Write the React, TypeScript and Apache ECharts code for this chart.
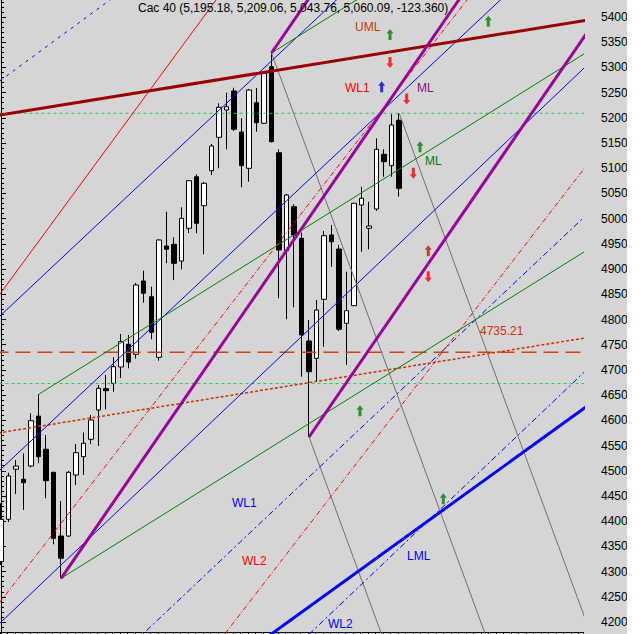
import React, { useEffect, useRef } from 'react';
import * as echarts from 'echarts';

// ---- price data (bar index 0..53) ----
const opens = [4319.6, 4403.7, 4502.9, 4483.1, 4509.4, 4608.6, 4542.6, 4496.9, 4370.6, 4370.6, 4491.6, 4527.9, 4562.4, 4620.5, 4662.7, 4673.5, 4705.8, 4750.8, 4731.0, 4876.4, 4845.2, 4725.0, 4945.8, 4949.2, 4916.0, 4980.9, 5083.2, 5025.7, 5095.1, 5161.4, 5215.5, 5253.2, 5171.9, 5099.9, 5230.0, 5189.2, 5301.4, 5130.8, 4936.5, 5023.7, 4961.1, 4757.4, 4723.0, 4840.1, 4967.6, 4939.8, 4792.5, 4827.4, 5027.1, 4980.9, 5019.2, 5127.7, 5105.1, 5195.18];
const closes = [4403.7, 4489.6, 4509.4, 4476.3, 4599.3, 4527.9, 4480.3, 4366.0, 4326.4, 4496.9, 4535.8, 4554.5, 4600.7, 4663.5, 4658.8, 4706.4, 4756.0, 4715.7, 4868.4, 4852.0, 4774.6, 4957.7, 4939.2, 4911.5, 5000.7, 5075.3, 4990.8, 5070.2, 5144.1, 5220.9, 5222.1, 5177.3, 5105.1, 5255.2, 5190.4, 5288.9, 5152.7, 4937.9, 5046.9, 4967.6, 4769.3, 4696.5, 4818.8, 4966.2, 4954.3, 4780.6, 4817.5, 5030.5, 5040.4, 4985.5, 5137.6, 5113.0, 5185.8, 5060.09];
const lows = [4313.1, 4398.4, 4453.9, 4422.2, 4507.0, 4514.8, 4445.4, 4354.1, 4286.7, 4368.6, 4471.7, 4491.6, 4553.1, 4549.1, 4621.9, 4656.8, 4684.0, 4703.2, 4722.6, 4833.3, 4760.7, 4718.3, 4911.5, 4878.3, 4899.6, 4971.6, 4971.0, 4929.3, 5086.6, 5099.9, 5137.6, 5173.9, 5062.2, 5073.3, 5172.5, 5187.8, 5151.1, 4842.1, 4800.4, 4824.2, 4686.6, 4566.9, 4676.6, 4746.1, 4904.7, 4777.0, 4709.8, 4826.8, 4934.5, 4939.2, 5015.2, 5083.2, 5083.2, 5043.76];
const highs = [4435.4, 4496.1, 4521.3, 4534.6, 4614.0, 4651.6, 4570.9, 4498.0, 4440.0, 4499.5, 4553.1, 4575.9, 4610.6, 4670.1, 4689.9, 4725.0, 4771.2, 4769.3, 4872.4, 4896.8, 4865.1, 4959.0, 5013.8, 4963.0, 5022.5, 5076.7, 5088.0, 5072.7, 5148.1, 5228.8, 5249.9, 5259.8, 5199.1, 5257.2, 5259.2, 5292.9, 5328.6, 5137.6, 5048.9, 5028.5, 4972.2, 4799.0, 4838.7, 4975.5, 4987.4, 4947.8, 4894.8, 5031.1, 5063.4, 5033.7, 5159.4, 5137.6, 5207.0, 5209.06];

// ---- drawn lines: [x1, price1, x2, price2] in (bar index, price) ----
const umlLine = [-1, 5203.5, 78, 5393.8];
const pitchforkMedian = [8, 4286.7, 61, 5435.2];
const pitchforkUpper = [36, 5328.6, 41, 5436.95];
const pitchforkLower = [41, 4566.9, 78, 5368.7];
const greenUpper = [5, 4651.6, 78, 5330.5];
const greenLower = [8, 4286.7, 78, 4937.7];
const greenTop = [36, 5328.6, 48, 5440.2];
const blueChannelA = [-1, 4489.4, 67, 5441.3];
const blueChannelB = [-1, 4794.8, 46, 5452.7];
const blueChannelC = [-1, 4185.7, 78, 5304.3];
const blueDottedTop = [-1, 5264.1, 16, 5450.1];
const blueLML = [35, 4165.5, 78, 4628.2];
const blueWL1 = [18, 4163.7, 78, 5008.5];
const blueWL2 = [41, 4175.5, 78, 4700.9];
const redSolid = [-1, 4833.0, 30, 5461.7];
const redWL1 = [-1, 4223.0, 63, 5452.4];
const redWL2 = [29, 4161.0, 78, 5106.7];
const greyFromHigh = [36, 5328.6, 66, 4113.6];
const greyFromLast = [53, 5209.06, 78, 4196.6];
const greyFromLow = [41, 4566.9, 52, 4121.4];
const orangeDotted = [-1, 4573.4, 78, 4764.0];
const levelPrice = [4735.21];
const greenLevels = [5209.06, 4673.0];

// ---- arrows: [bar index, price] ----
const arrowsUpGreen = [[51.78, 5365.3], [64.86, 5391.5], [55.77, 5142.7], [47.78, 4618.9], [58.87, 4444.6]];
const arrowsDownRed = [[51.78, 5309.7], [54.0, 5237.4], [54.88, 5090.0], [56.87, 4884.9]];
const arrowsUpBlue = [[50.67, 5261.7]];
const arrowsUpBrown = [[56.87, 4936.3]];

const titleText = 'Cac 40 (5,195.18, 5,209.06, 5,043.76, 5,060.09, -123.360)';

const FONT = '"Liberation Sans", Arial, sans-serif';
const UP_ARROW = 'path://M3.5,0 L7,4.5 L5,4.5 L5,11 L2,11 L2,4.5 L0,4.5 Z';
const DOWN_ARROW = 'path://M2,0 L5,0 L5,6.5 L7,6.5 L3.5,11 L0,6.5 L2,6.5 Z';

function seg(arr: number[], color: string, width: number, type: any = 'solid') {
  return {
    type: 'line',
    data: [[arr[0], arr[1]], [arr[2], arr[3]]],
    symbol: 'none',
    silent: true,
    clip: true,
    z: 3,
    lineStyle: { color, width, type, cap: 'butt' },
  };
}

function arrows(data: number[][], color: string, symbol: string) {
  return {
    type: 'scatter',
    data,
    symbol,
    symbolSize: [7, 11],
    silent: true,
    z: 5,
    itemStyle: { color },
  };
}

export default function App() {
  const ref = useRef<HTMLDivElement>(null);
  useEffect(() => {
    if (!ref.current) return;
    const chart = echarts.init(ref.current, undefined, { renderer: 'svg' });
    const candles = opens.map((o, i) => [i, o, closes[i], lows[i], highs[i]]);
    const texts = [
      { text: titleText, x: 138, y: 8, fill: '#000000' },
      { text: 'UML', x: 355, y: 27, fill: '#cc3300' },
      { text: 'WL1', x: 345, y: 88, fill: '#ff0000' },
      { text: 'ML', x: 417, y: 88, fill: '#990099' },
      { text: 'ML', x: 425, y: 161, fill: '#008000' },
      { text: '4735.21', x: 480, y: 331, fill: '#cc3300' },
      { text: 'WL1', x: 232, y: 503, fill: '#0000ff' },
      { text: 'WL2', x: 242, y: 561, fill: '#ff0000' },
      { text: 'LML', x: 407, y: 556, fill: '#0000ff' },
      { text: 'WL2', x: 328, y: 624, fill: '#0000ff' },
    ];
    const option: any = {
      animation: false,
      backgroundColor: '#d5d5d5',
      grid: {
        left: 0,
        width: 583,
        top: -8.208,
        height: 655.417,
        containLabel: false,
        outerBoundsMode: 'none',
      },
      xAxis: {
        type: 'value',
        min: -0.133,
        max: 77.466,
        interval: 1,
        offset: -15.2,
        axisLabel: { show: false },
        splitLine: { show: false },
        axisLine: { show: true, lineStyle: { color: '#000', width: 1 } },
        axisTick: { show: true, length: 2, lineStyle: { color: '#000' } },
      },
      yAxis: {
        type: 'value',
        position: 'right',
        min: 4150,
        max: 5450,
        interval: 50,
        splitLine: { show: false },
        axisLine: { show: true, lineStyle: { color: '#000', width: 1 } },
        axisTick: { show: true, length: 5, lineStyle: { color: '#000' } },
        minorTick: { show: true, splitNumber: 5, length: 3, lineStyle: { color: '#000' } },
        axisLabel: {
          show: true,
          color: '#000',
          fontSize: 12,
          fontFamily: FONT,
          margin: 18,
          align: 'left',
          formatter: (v: number) => String(Math.round(v)),
          showMinLabel: false,
          showMaxLabel: false,
        },
      },
      series: [
        {
          type: 'candlestick',
          data: candles,
          encode: { x: 0, y: [1, 2, 3, 4] },
          barWidth: 5,
          clip: true,
          z: 2,
          itemStyle: {
            color: '#ffffff',
            color0: '#000000',
            borderColor: '#000000',
            borderColor0: '#000000',
            borderWidth: 1,
          },
        },
        seg([-1, levelPrice[0], 78, levelPrice[0]], '#d04010', 1.5, [15, 7]),
        seg([-1, greenLevels[0], 78, greenLevels[0]], '#22cc55', 1, [3, 3]),
        seg([-1, greenLevels[1], 78, greenLevels[1]], '#22cc55', 1, [3, 3]),
        seg(orangeDotted, '#cc3300', 1.5, [3, 2]),
        seg(greyFromHigh, '#707070', 1),
        seg(greyFromLast, '#707070', 1),
        seg(greyFromLow, '#707070', 1),
        seg(blueChannelA, '#0000ff', 1),
        seg(blueChannelB, '#0000ff', 1),
        seg(blueChannelC, '#0000ff', 1),
        seg(blueDottedTop, '#0000ff', 1, [3, 5]),
        seg(blueWL1, '#0000ff', 1, [6, 3, 2, 3]),
        seg(blueWL2, '#0000ff', 1, [6, 3, 2, 3]),
        seg(redSolid, '#ff0000', 1),
        seg(redWL1, '#ff0000', 1, [5, 2, 1, 2]),
        seg(redWL2, '#ff0000', 1, [5, 2, 1, 2]),
        seg(greenUpper, '#008000', 1),
        seg(greenLower, '#008000', 1),
        seg(greenTop, '#008000', 1),
        seg(blueLML, '#0000ff', 3),
        seg(umlLine, '#990000', 3),
        seg(pitchforkMedian, '#990099', 3),
        seg(pitchforkUpper, '#990099', 3),
        seg(pitchforkLower, '#990099', 3),
        arrows(arrowsUpGreen, '#008000', UP_ARROW),
        arrows(arrowsDownRed, '#ff0000', DOWN_ARROW),
        arrows(arrowsUpBlue, '#0000ff', UP_ARROW),
        arrows(arrowsUpBrown, '#aa2200', UP_ARROW),
      ],
      graphic: texts.map((t) => ({
        type: 'text',
        x: t.x,
        y: t.y,
        z: 10,
        silent: true,
        style: {
          text: t.text,
          fill: t.fill,
          font: '12px ' + FONT,
          verticalAlign: 'middle',
          textVerticalAlign: 'middle',
        },
      })),
    };
    chart.setOption(option);
    return () => chart.dispose();
  }, []);
  return (
    <div
      ref={ref}
      style={{ position: 'absolute', left: 0, top: 0, width: 627, height: 634 }}
    />
  );
}
